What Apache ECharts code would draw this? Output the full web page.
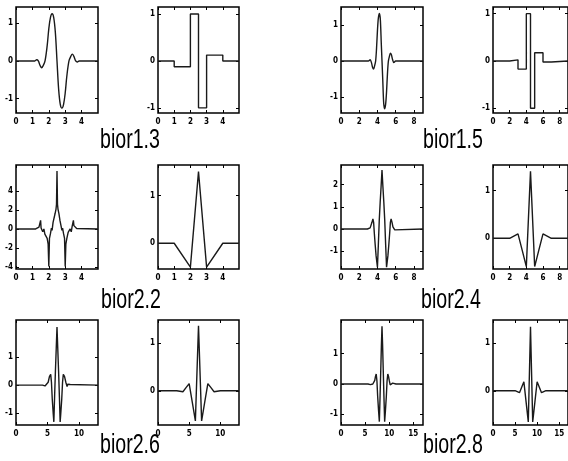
<!DOCTYPE html>
<html><head><meta charset="utf-8">
<script src="https://cdn.jsdelivr.net/npm/echarts@6/dist/echarts.min.js"></script>
<style>html,body{margin:0;padding:0;background:#fff;}#c{width:568px;height:461px;}</style>
</head><body><div id="c"></div>
<script>
// ---- titles ----
const titles = ['bior1.3', 'bior1.5', 'bior2.2', 'bior2.4', 'bior2.6', 'bior2.8'];

// ---- x tick labels per plot ----
const xTicks5 = [0, 1, 2, 3, 4];
const xTicks9 = [0, 2, 4, 6, 8];
const xTicks13 = [0, 5, 10];
const xTicks17 = [0, 5, 10, 15];
// ---- y tick labels per plot ----
const yTicksUnit = [-1, 0, 1];
const yTicks22 = [-4, -2, 0, 2, 4];
const yTicks24 = [-1, 0, 1, 2];
const yTicksPos = [0, 1];

// ---- series values [x, y] ----
const bior13Dec = [[0,0],[1.15,0],[1.26,0.03],[1.36,0],[1.47,-0.12],[1.565,-0.18],[1.66,-0.12],[1.77,0],[1.9,0.4],[2.0,0.85],[2.1,1.15],[2.2,1.25],[2.3,1.15],[2.4,0.75],[2.5,0],[2.6,-0.75],[2.7,-1.15],[2.8,-1.25],[2.9,-1.15],[3.0,-0.85],[3.1,-0.4],[3.23,0],[3.34,0.12],[3.435,0.18],[3.53,0.12],[3.64,0],[3.74,-0.03],[3.85,0],[5,0]];
const bior13Rec = [[0,0],[1,0],[1,-0.125],[2,-0.125],[2,1],[2.5,1],[2.5,-1],[3,-1],[3,0.125],[4,0.125],[4,0],[5,0]];
const bior15Dec = [[0,0],[3.0,0],[3.2,0.04],[3.35,-0.05],[3.47,-0.18],[3.58,-0.22],[3.68,-0.14],[3.8,0],[3.9,0.35],[4.0,0.85],[4.1,1.2],[4.22,1.33],[4.32,1.15],[4.42,0.5],[4.5,0],[4.58,-0.5],[4.68,-1.15],[4.78,-1.33],[4.9,-1.2],[5.0,-0.85],[5.1,-0.35],[5.2,0],[5.32,0.14],[5.42,0.22],[5.53,0.18],[5.65,0.05],[5.8,-0.04],[6.0,0],[9,0]];
const bior15Rec = [[0,0],[2,0],[2,0.023],[3,0.023],[3,-0.172],[4,-0.172],[4,1],[4.5,1],[4.5,-1],[5,-1],[5,0.172],[6,0.172],[6,-0.023],[7,-0.023],[7,0],[9,0]];
const bior22Dec = [[0,0],[1.2,0],[1.3,0.05],[1.4,0.2],[1.47,0.35],[1.5,0.9],[1.53,0.1],[1.58,0.25],[1.63,-0.3],[1.7,0.0],[1.76,-0.55],[1.82,-0.35],[1.9,-1.0],[1.96,-1.6],[2.0,-3.95],[2.04,-1.0],[2.1,-0.5],[2.16,0.1],[2.2,-0.15],[2.26,0.7],[2.32,0.9],[2.38,1.6],[2.44,2.1],[2.47,2.6],[2.5,6.1],[2.53,2.6],[2.56,2.1],[2.62,1.6],[2.68,0.9],[2.74,0.7],[2.8,-0.15],[2.84,0.1],[2.9,-0.5],[2.96,-1.0],[3.0,-3.95],[3.04,-1.6],[3.1,-1.0],[3.18,-0.35],[3.24,-0.55],[3.3,0.0],[3.37,-0.3],[3.42,0.25],[3.47,0.1],[3.5,0.9],[3.53,0.35],[3.6,0.2],[3.7,0.05],[3.8,0],[5,0]];
const bior22Rec = [[0,0],[1,0],[2,-0.5],[2.5,1.5],[3,-0.5],[4,0],[5,0]];
const bior24Dec = [[0,0],[2.9,0],[3.0,0.03],[3.1,-0.04],[3.2,0.05],[3.3,0.1],[3.4,0.3],[3.5,0.45],[3.58,0.3],[3.66,-0.2],[3.75,-0.7],[3.85,-1.2],[4.0,-1.72],[4.1,-0.7],[4.2,0.4],[4.3,1.2],[4.4,1.9],[4.5,2.65],[4.6,1.9],[4.7,1.2],[4.8,0.4],[4.9,-0.7],[5.0,-1.72],[5.15,-1.2],[5.25,-0.7],[5.34,-0.2],[5.42,0.3],[5.5,0.45],[5.6,0.3],[5.7,0.1],[5.8,0.05],[5.9,-0.04],[6.0,0.03],[6.1,0],[9,0]];
const bior24Rec = [[0,0],[2,0],[2.5,0.047],[3,0.094],[3.5,-0.25],[4,-0.594],[4.5,1.406],[5,-0.594],[5.5,-0.25],[6,0.094],[6.5,0.047],[7,0],[9,0]];
const bior26Dec = [[0,0],[4.2,0],[4.4,0.02],[4.6,-0.03],[4.8,0.03],[4.9,-0.05],[5.1,0.1],[5.3,0.3],[5.5,0.38],[5.62,0.1],[5.75,-0.5],[5.9,-1.0],[6.0,-1.3],[6.12,-0.4],[6.25,0.5],[6.38,1.3],[6.5,2.05],[6.62,1.3],[6.75,0.5],[6.88,-0.4],[7.0,-1.3],[7.1,-1.0],[7.25,-0.5],[7.38,0.1],[7.5,0.38],[7.7,0.3],[7.9,0.1],[8.1,-0.05],[8.2,0.03],[8.4,-0.03],[8.6,0.02],[8.8,0],[13,0]];
const bior26Rec = [[0,0],[3,0],[3.5,-0.01],[4,-0.02],[4.5,0.066],[5,0.152],[5.5,-0.24],[6,-0.633],[6.5,1.367],[7,-0.633],[7.5,-0.24],[8,0.152],[8.5,0.066],[9,-0.02],[9.5,-0.01],[10,0],[13,0]];
const bior28Dec = [[0,0],[5.6,0],[5.9,0.02],[6.1,-0.02],[6.3,0.03],[6.45,-0.07],[6.6,0.0],[6.8,-0.03],[7.0,0.12],[7.15,0.25],[7.3,0.33],[7.45,0.1],[7.6,-0.4],[7.8,-0.9],[7.95,-1.24],[8.1,-0.4],[8.25,0.5],[8.38,1.3],[8.5,1.9],[8.62,1.3],[8.75,0.5],[8.9,-0.4],[9.05,-1.24],[9.2,-0.9],[9.4,-0.4],[9.55,0.1],[9.7,0.33],[9.85,0.25],[10.0,0.12],[10.2,-0.03],[10.4,0.0],[10.55,-0.07],[10.7,0.03],[10.9,-0.02],[11.1,0.02],[11.4,0],[17,0]];
const bior28Rec = [[0,0],[4,0],[4.5,0.002],[5,0.004],[5.5,-0.018],[6,-0.041],[6.5,0.075],[7,0.191],[7.5,-0.232],[8,-0.654],[8.5,1.346],[9,-0.654],[9.5,-0.232],[10,0.191],[10.5,0.075],[11,-0.041],[11.5,-0.018],[12,0.004],[12.5,0.002],[13,0],[17,0]];

// ---- layout (not data) ----
const colLeft = [16, 158, 341, 493];
const colWidth = [82, 81, 82, 82];
const rowTop = [7, 165, 320];
const rowHeight = [106, 104, 105];

const plots = [
  {data: bior13Dec, xmax: 5, xt: xTicks5, ymin: -1.38, ymax: 1.43, yt: yTicksUnit, smooth: 0.35},
  {data: bior13Rec, xmax: 5, xt: xTicks5, ymin: -1.11, ymax: 1.15, yt: yTicksUnit},
  {data: bior15Dec, xmax: 9, xt: xTicks9, ymin: -1.45, ymax: 1.51, yt: yTicksUnit, smooth: 0.3},
  {data: bior15Rec, xmax: 9, xt: xTicks9, ymin: -1.10, ymax: 1.14, yt: yTicksUnit},
  {data: bior22Dec, xmax: 5, xt: xTicks5, ymin: -4.22, ymax: 6.74, yt: yTicks22},
  {data: bior22Rec, xmax: 5, xt: xTicks5, ymin: -0.54, ymax: 1.64, yt: yTicksPos},
  {data: bior24Dec, xmax: 9, xt: xTicks9, ymin: -1.8, ymax: 2.88, yt: yTicks24},
  {data: bior24Rec, xmax: 9, xt: xTicks9, ymin: -0.645, ymax: 1.54, yt: yTicksPos},
  {data: bior26Dec, xmax: 13, xt: xTicks13, ymin: -1.41, ymax: 2.3, yt: yTicksUnit},
  {data: bior26Rec, xmax: 13, xt: xTicks13, ymin: -0.72, ymax: 1.49, yt: yTicksPos},
  {data: bior28Dec, xmax: 17, xt: xTicks17, ymin: -1.35, ymax: 2.11, yt: yTicksUnit},
  {data: bior28Rec, xmax: 17, xt: xTicks17, ymin: -0.72, ymax: 1.49, yt: yTicksPos}
];

const tickFont = "'Liberation Sans Narrow','DejaVu Sans Condensed','Liberation Sans',sans-serif";
const grid = [], xAxis = [], yAxis = [], series = [];
plots.forEach((p, i) => {
  const r = Math.floor(i / 4), c = i % 4;
  grid.push({left: colLeft[c], top: rowTop[r], width: colWidth[c], height: rowHeight[r],
    show: true, borderColor: '#000', borderWidth: 1.5, backgroundColor: 'transparent'});
  const tickStyle = {show: true, inside: true, length: 3, lineStyle: {color: '#000', width: 1}};
  const noLine = {show: false, onZero: false};
  xAxis.push({type: 'value', gridIndex: i, min: 0, max: p.xmax, position: 'bottom',
    axisLine: noLine, splitLine: {show: false},
    axisTick: Object.assign({customValues: p.xt}, tickStyle),
    axisLabel: {customValues: p.xt, fontSize: 8, fontWeight: 'bold', color: '#000', margin: 5, fontFamily: tickFont}});
  xAxis.push({type: 'value', gridIndex: i, min: 0, max: p.xmax, position: 'top',
    axisLine: noLine, splitLine: {show: false},
    axisTick: Object.assign({customValues: p.xt}, tickStyle), axisLabel: {show: false}});
  yAxis.push({type: 'value', gridIndex: i, min: p.ymin, max: p.ymax, position: 'left',
    axisLine: noLine, splitLine: {show: false},
    axisTick: Object.assign({customValues: p.yt}, tickStyle),
    axisLabel: {customValues: p.yt, fontSize: 8, fontWeight: 'bold', color: '#000', margin: 3, fontFamily: tickFont}});
  yAxis.push({type: 'value', gridIndex: i, min: p.ymin, max: p.ymax, position: 'right',
    axisLine: noLine, splitLine: {show: false},
    axisTick: Object.assign({customValues: p.yt}, tickStyle), axisLabel: {show: false}});
  series.push({type: 'line', xAxisIndex: 2 * i, yAxisIndex: 2 * i, data: p.data,
    showSymbol: false, smooth: p.smooth || false, clip: true,
    lineStyle: {color: '#1a1a1a', width: 1.4}});
});

const titlePos = [[100, 140], [423, 140], [101, 300], [421, 300], [100, 445], [423, 445]];
const graphic = titles.map((t, k) => ({
  type: 'text', x: titlePos[k][0], y: titlePos[k][1], scaleX: 0.7, scaleY: 1,
  style: {text: t, font: "28px 'Liberation Sans', Arial, sans-serif", fill: '#000', align: 'left', verticalAlign: 'middle'}
}));

const chart = echarts.init(document.getElementById('c'), null, {renderer: 'canvas'});
chart.setOption({animation: false, backgroundColor: '#fff', grid, xAxis, yAxis, series, graphic});
</script>
</body></html>
